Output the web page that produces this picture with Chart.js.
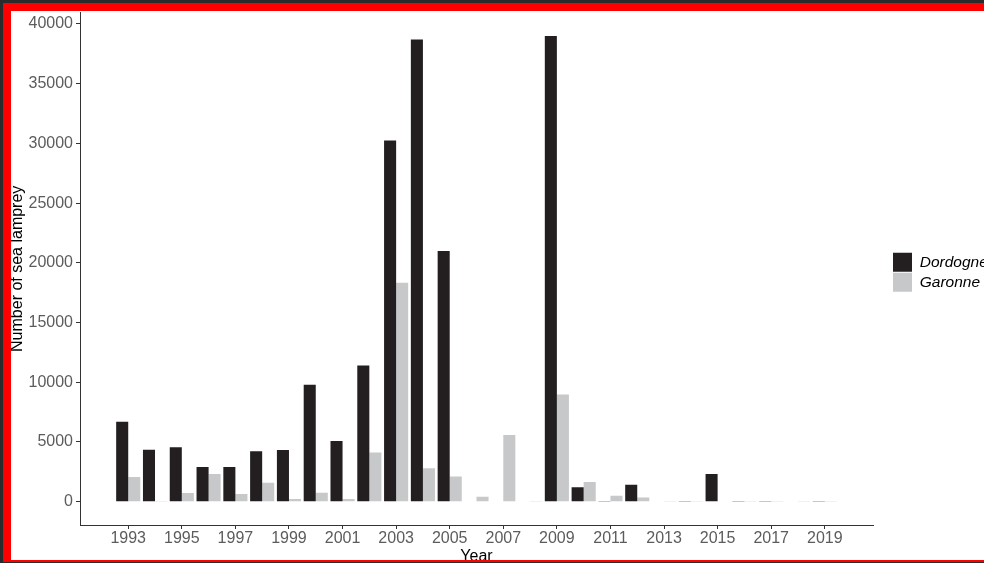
<!DOCTYPE html>
<html>
<head>
<meta charset="utf-8">
<script src="https://cdn.jsdelivr.net/npm/chart.js@4.4.1/dist/chart.umd.min.js"></script>
<style>
  html, body { margin: 0; padding: 0; background: #2b2b2b; overflow: hidden; width: 984px; height: 563px; }
  #paper { position: absolute; left: 3px; top: 3px; width: 981px; height: 559px; background: #ffffff; }
  #c { position: absolute; left: 0; top: 0; }
  #frame { position: absolute; left: 3px; top: 3px; width: 973px; height: 549px;
           border-left: 8px solid #ff0000; border-top: 8px solid #ff0000; border-bottom: 2px solid #ff0000;
           pointer-events: none; }
</style>
</head>
<body>
<div id="paper"></div>
<canvas id="c" width="984" height="563"></canvas>
<div id="frame"></div>
<script>
// ---- data ----
const years = [1993, 1994, 1995, 1996, 1997, 1998, 1999, 2000, 2001, 2002,
               2003, 2004, 2005, 2006, 2007, 2008, 2009, 2010, 2011, 2012,
               2013, 2014, 2015, 2016, 2017, 2018, 2019];
const dordogne = [6700, 4350, 4550, 2900, 2900, 4220, 4330, 9800, 5080, 11400,
                  30250, 38700, 21000, 0, 0, 0, 39000, 1220, 15, 1420,
                  40, 15, 2310, 10, 10, 40, 15];
const garonne = [2060, 50, 720, 2330, 640, 1580, 220, 750, 220, 4110,
                 18330, 2800, 2110, 420, 5580, 15, 8970, 1640, 500, 360,
                 10, 10, 0, 10, 10, 10, 10];
const seriesNames = ['Dordogne', 'Garonne'];
const xTickYears = [1993, 1995, 1997, 1999, 2001, 2003, 2005, 2007, 2009, 2011, 2013, 2015, 2017, 2019];
const yTickValues = [0, 5000, 10000, 15000, 20000, 25000, 30000, 35000, 40000];

const FONT = 'Liberation Sans';
const tickFont = { family: FONT, size: 16 };
const titleFont = { family: FONT, size: 16 };
const tickColor = '#5c5c5c';

new Chart(document.getElementById('c'), {
  type: 'bar',
  data: {
    labels: years,
    datasets: [
      { label: seriesNames[0], data: dordogne, backgroundColor: '#231f20', borderWidth: 0,
        barPercentage: 1, categoryPercentage: 0.9, xAxisID: 'x', yAxisID: 'y' },
      { label: seriesNames[1], data: garonne, backgroundColor: '#c7c8ca', borderWidth: 0,
        barPercentage: 1, categoryPercentage: 0.9, xAxisID: 'x', yAxisID: 'y' }
    ]
  },
  options: {
    responsive: false,
    devicePixelRatio: 1,
    animation: false,
    events: [],
    layout: { padding: { top: 11, right: 0, bottom: 0, left: 0 } },
    scales: {
      x: {
        type: 'linear',
        position: 'bottom',
        min: 1991.2,
        max: 2020.8,
        offset: false,
        grid: { display: true, drawOnChartArea: false, drawTicks: true, tickLength: 4, color: '#333333', offset: false },
        border: { display: true, color: '#333333', width: 1 },
        ticks: { font: tickFont, color: tickColor, padding: 0, maxRotation: 0, autoSkip: false,
                 callback: (v) => String(v) },
        afterBuildTicks: (s) => { s.ticks = xTickYears.map(v => ({ value: v })); },
        afterFit: (s) => { s.height = 38; },
        title: { display: true, text: 'Year', color: '#000000', font: titleFont, padding: { top: 0, bottom: -3 } }
      },
      y: {
        type: 'linear',
        position: 'left',
        min: -1950,
        max: 40950,
        grid: { display: true, drawOnChartArea: false, drawTicks: true, tickLength: 4, color: '#333333' },
        border: { display: true, color: '#333333', width: 1 },
        ticks: { font: tickFont, color: tickColor, padding: 3, callback: (v) => String(v) },
        afterBuildTicks: (s) => { s.ticks = yTickValues.map(v => ({ value: v })); },
        afterFit: (s) => { s.width = 80; },
        title: { display: true, text: 'Number of sea lamprey', color: '#000000', font: titleFont, padding: { top: 8, bottom: 0 } }
      },
      y2: {
        type: 'linear',
        position: 'right',
        display: true,
        grid: { display: false },
        border: { display: false },
        ticks: { display: false },
        afterFit: (s) => { s.width = 19; }
      }
    },
    plugins: {
      tooltip: { enabled: false },
      legend: {
        display: true,
        position: 'right',
        align: 'center',
        fullSize: false,
        maxWidth: 92,
        title: { display: true, text: ' ', font: { size: 5, lineHeight: 1 }, padding: 1 },
        labels: {
          boxWidth: 19,
          boxHeight: 19,
          padding: 1,
          color: '#000000',
          font: { family: FONT, size: 15.5, style: 'italic' }
        }
      }
    }
  }
});
</script>
</body>
</html>
